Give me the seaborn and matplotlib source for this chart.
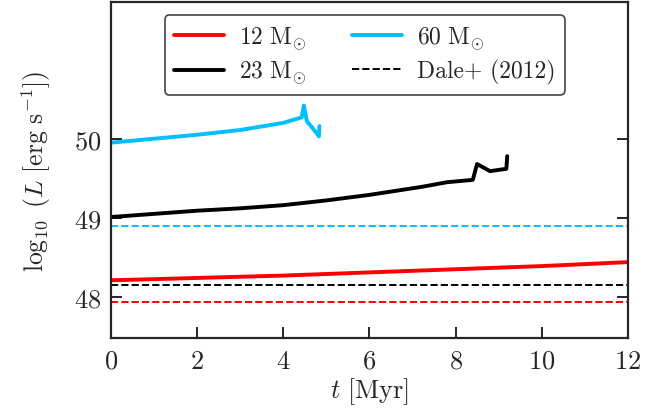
import numpy as np
import pandas as pd
import matplotlib
matplotlib.use("Agg")
import matplotlib.pyplot as plt
import seaborn as sns

# Stellar luminosity tracks
t_12 = [0, 2, 4, 6, 8, 10, 12]
L_12 = [48.21, 48.24, 48.27, 48.31, 48.35, 48.39, 48.44]

t_23 = [0, 1, 2, 3, 4, 5, 6, 7.2, 7.8, 8.4, 8.5, 8.8, 9.18, 9.2]
L_23 = [49.01, 49.05, 49.09, 49.12, 49.16, 49.22, 49.29, 49.39, 49.45, 49.48, 49.68, 49.59, 49.62, 49.78]

t_60 = [0, 1, 2, 3, 4, 4.43, 4.48, 4.55, 4.69, 4.83, 4.84]
L_60 = [49.95, 50.0, 50.05, 50.11, 50.20, 50.27, 50.42, 50.22, 50.13, 50.03, 50.16]

# Dale+ (2012) reference values
dale_mass = ["12", "23", "60"]
dale_L = [47.94, 48.15, 48.90]

colors = {"12": "#ff0000", "23": "black", "60": "#00bfff"}

sns.set_style("ticks")
plt.rcParams.update({
    "font.family": "serif",
    "font.serif": ["cmr10"],
    "mathtext.fontset": "cm",
    "axes.formatter.use_mathtext": True,
    "font.size": 19,
    "axes.linewidth": 1.6,
    "xtick.direction": "in",
    "ytick.direction": "in",
    "xtick.top": False,
    "ytick.right": True,
    "xtick.major.size": 8,
    "ytick.major.size": 8,
    "xtick.major.width": 1.4,
    "ytick.major.width": 1.4,
    "xtick.major.pad": 8,
    "ytick.major.pad": 7,
})

fig, ax = plt.subplots(figsize=(6.52, 4.10), dpi=100)
fig.subplots_adjust(left=0.170, right=0.963, top=0.993, bottom=0.173)

tracks = {"12": (t_12, L_12), "23": (t_23, L_23), "60": (t_60, L_60)}
for m, (t, L) in tracks.items():
    df = pd.DataFrame({"t": t, "L": L})
    sns.lineplot(data=df, x="t", y="L", ax=ax, color=colors[m], lw=2.8,
                 sort=False, estimator=None, label=rf"${m}\ \mathrm{{M}}_{{\odot}}$")

for m, L in zip(dale_mass, dale_L):
    df = pd.DataFrame({"t": [0, 12], "L": [L, L]})
    sns.lineplot(data=df, x="t", y="L", ax=ax, color=colors[m], lw=1.4,
                 ls="--", estimator=None,
                 label="Dale+ (2012)" if m == "23" else "_nolegend_")

ax.set_xlim(0, 12)
ax.set_ylim(47.48, 51.73)
ax.set_xticks([0, 2, 4, 6, 8, 10, 12])
ax.set_yticks([48, 49, 50])
ax.set_xlabel(r"$t\ [\mathrm{Myr}]$", fontsize=19, labelpad=2)
ax.set_ylabel(r"$\log_{10}\ (L\ [\mathrm{erg\ s^{-1}}])$", fontsize=18.5, labelpad=15)

h, l = ax.get_legend_handles_labels()
leg = ax.legend(h, l, ncol=2, loc="upper left", bbox_to_anchor=(0.104, 0.961),
                borderaxespad=0, fontsize=17, handlelength=2.1, handletextpad=0.65,
                columnspacing=1.95, labelspacing=0.3, borderpad=0.4,
                frameon=True, fancybox=True, framealpha=1, edgecolor="#444444")
leg.get_frame().set_linewidth(1.2)

fig.savefig("out.png", dpi=100)
